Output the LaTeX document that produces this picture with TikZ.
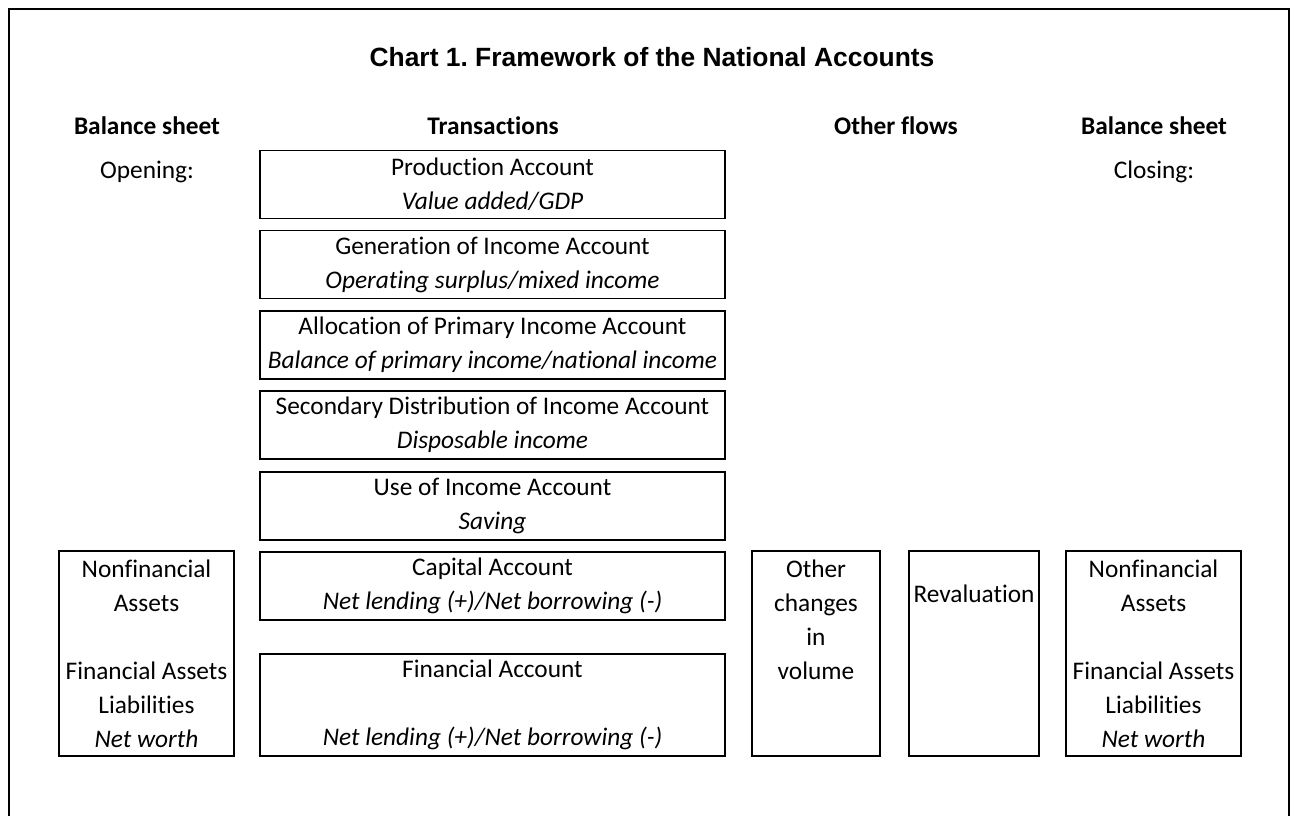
\documentclass[tikz,border=0pt]{standalone}
\usepackage{fontspec}
\setmainfont{Carlito}[Ligatures=NoCommon]
\newfontfamily\charttitlefont{Liberation Sans}
\usepackage{tikz}
\frenchspacing

\tikzset{
        acct/.style={draw=black, line width=0.8pt, inner sep=0pt, align=center,
                font=\fontsize{19}{25.5}\selectfont},
        txbox/.style={acct, minimum width=348.75pt, minimum height=51pt},
        tallbox/.style={acct, minimum height=153.75pt},
        colhead/.style={font=\fontsize{19}{25.5}\selectfont\bfseries, inner sep=0pt},
        plain/.style={font=\fontsize{19}{25.5}\selectfont, inner sep=0pt}
}

\begin{document}
\begin{tikzpicture}[x=0.75pt, y=-0.75pt]

        \useasboundingbox (0,0) rectangle (1297,816);

        % frame, open at the bottom
        \draw[black, line width=1.8pt] (9,816) -- (9,9) -- (1289,9) -- (1289,816);

        \node (title) at (652,57) {\charttitlefont\fontsize{19.8}{24}\selectfont\bfseries Chart 1. Framework of the National Accounts};

        % column heads
        \node[colhead] (bsopen) at (147,126) {Balance sheet};
        \node[colhead] (trans) at (493,126) {Transactions};
        \node[colhead] (other) at (896,126) {Other flows};
        \node[colhead] (bsclose) at (1154,126) {Balance sheet};

        \node[plain] (opening) at (147,172) {Opening:};
        \node[plain] (closing) at (1154,172) {Closing:};

        % transactions
        \node[txbox] (prod) at (492.5,184.5) {Production Account\\\textit{Value added/GDP}};
        \node[txbox] (gen) at (492.5,264.5) {Generation of Income Account\\\textit{Operating surplus/mixed income}};
        \node[txbox] (alloc) at (492.5,345) {Allocation of Primary Income Account\\\textit{Balance of primary income/national income}};
        \node[txbox] (second) at (492.5,425) {Secondary Distribution of Income Account\\\textit{Disposable income}};
        \node[txbox] (use) at (492.5,506) {Use of Income Account\\\textit{Saving}};
        \node[txbox] (capital) at (492.5,586) {Capital Account\\\textit{Net lending (+)/Net borrowing (-)}};
        \node[txbox, minimum height=76.5pt] (financial) at (492.5,705) {Financial Account\\~\\\textit{Net lending (+)/Net borrowing (-)}};

        % balance sheets
        \node[tallbox, minimum width=131.25pt] (openbs) at (146.5,653.5) {Nonfinancial\\Assets\\~\\Financial Assets\\Liabilities\\\textit{Net worth}};
        \node[tallbox, minimum width=131.25pt] (closebs) at (1153.5,653.5) {Nonfinancial\\Assets\\~\\Financial Assets\\Liabilities\\\textit{Net worth}};

        % other flows
        \node[tallbox, minimum width=96pt] (volume) at (816,653.5) {Other\\changes\\in\\volume\\~\\~};
        \node[tallbox, minimum width=97.5pt] (reval) at (974,653.5) {~\\Revaluation\\~\\~\\~\\~};

\end{tikzpicture}
\end{document}
